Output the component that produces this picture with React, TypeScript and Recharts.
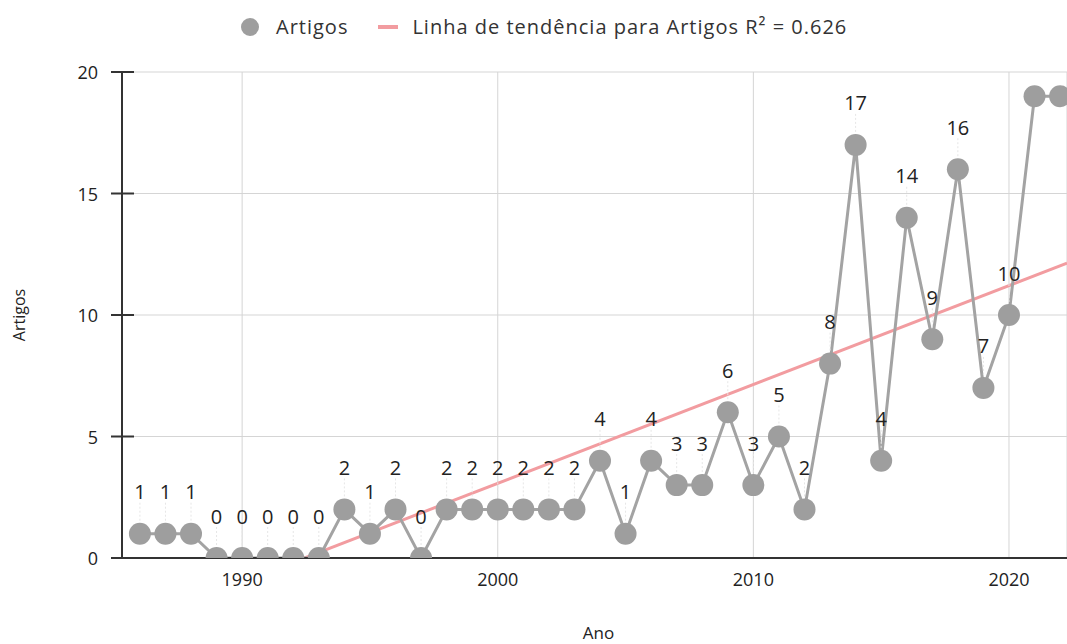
import React from "react";
import {
    LineChart,
    Line,
    XAxis,
    YAxis,
    CartesianGrid,
    ReferenceLine,
    LabelList,
    Label,
} from "recharts";

// --- Data ---

const YEARS = [
    1986, 1987, 1988, 1989, 1990, 1991, 1992, 1993, 1994, 1995,
    1996, 1997, 1998, 1999, 2000, 2001, 2002, 2003, 2004, 2005,
    2006, 2007, 2008, 2009, 2010, 2011, 2012, 2013, 2014, 2015,
    2016, 2017, 2018, 2019, 2020, 2021, 2022,
];
const ARTIGOS = [
    1, 1, 1, 0, 0, 0, 0, 0, 2, 1,
    2, 0, 2, 2, 2, 2, 2, 2, 4, 1,
    4, 3, 3, 6, 3, 5, 2, 8, 17, 4,
    14, 9, 16, 7, 10, 19, 19,
];
const X_TICKS = [1990, 2000, 2010, 2020];
const Y_TICKS = [0, 5, 10, 15, 20];

const SERIES_NAME = "Artigos";
const TREND_NAME = "Linha de tendência para Artigos R² = 0.626";

// --- Constants ---

const WIDTH = 1067;
const HEIGHT = 644;
const PLOT_LEFT = 122;
const PLOT_TOP = 72;
const X_AXIS_HEIGHT = 86;
const X_DOMAIN: [number, number] = [1985.3, 2022.27];

const POINT_COLOR = "#9e9e9e";
const LINE_COLOR = "#a3a3a3";
const TREND_COLOR = "#f29ca0";
const AXIS_COLOR = "#333333";
const GRID_COLOR = "#d5d5d5";
const TEXT_COLOR = "#222222";
const FONT = "'Open Sans', sans-serif";

const DOT_RADIUS = 11;
const LABEL_GAP = 42;

const chartData = YEARS.map((year, i) => ({ year, artigos: ARTIGOS[i] }));

// least squares trend over the series
function linearFit(xs: number[], ys: number[])
{
    const n = xs.length;
    const mx = xs.reduce((a, b) => a + b, 0) / n;
    const my = ys.reduce((a, b) => a + b, 0) / n;
    let sxy = 0;
    let sxx = 0;
    for (let i = 0; i < n; i++)
    {
        sxy += (xs[i] - mx) * (ys[i] - my);
        sxx += (xs[i] - mx) * (xs[i] - mx);
    }
    const slope = sxy / sxx;
    return (x: number) => my + slope * (x - mx);
}

const trend = linearFit(YEARS, ARTIGOS);

// --- Custom parts ---

function PointLabel(props: any)
{
    const x = props.x ?? props.viewBox?.x;
    const y = props.y ?? props.viewBox?.y;
    const ly = y - LABEL_GAP;
    if (ly < PLOT_TOP)
    {
        return null;
    }
    return (
        <g>
            <line
                x1={x}
                x2={x}
                y1={ly + 11}
                y2={y - DOT_RADIUS}
                stroke="#e6e6e6"
                strokeDasharray="2 2"
            />
            <text
                x={x}
                y={ly}
                textAnchor="middle"
                dominantBaseline="central"
                fontSize={20}
                fontFamily={FONT}
                fill={TEXT_COLOR}
            >
                {props.value}
            </text>
        </g>
    );
}

function YTick({ y, payload }: any)
{
    return (
        <g>
            <line
                x1={PLOT_LEFT - 11}
                x2={PLOT_LEFT + 12}
                y1={y}
                y2={y}
                stroke={AXIS_COLOR}
                strokeWidth={2}
            />
            <text
                x={PLOT_LEFT - 24}
                y={y}
                textAnchor="end"
                dominantBaseline="central"
                fontSize={18}
                fontFamily={FONT}
                fill={TEXT_COLOR}
            >
                {payload.value}
            </text>
        </g>
    );
}

function ChartLegend()
{
    return (
        <div
            style={{
                position: "absolute",
                top: 13,
                left: 241,
                display: "flex",
                alignItems: "center",
                fontFamily: FONT,
                fontSize: 20,
                letterSpacing: 1,
                color: "#333",
                whiteSpace: "nowrap",
            }}
        >
            <span
                style={{
                    display: "inline-block",
                    width: 18,
                    height: 18,
                    borderRadius: 9,
                    background: POINT_COLOR,
                    marginRight: 17,
                }}
            />
            <span>{SERIES_NAME}</span>
            <span
                style={{
                    display: "inline-block",
                    width: 20,
                    height: 4,
                    background: TREND_COLOR,
                    marginLeft: 30,
                    marginRight: 14,
                }}
            />
            <span>{TREND_NAME}</span>
        </div>
    );
}

// --- Component ---

export default function App()
{
    return (
        <div
            style={{
                position: "absolute",
                left: 0,
                top: 0,
                width: WIDTH,
                height: HEIGHT,
                background: "#fff",
                overflow: "hidden",
            }}
        >
            <LineChart
                width={WIDTH}
                height={HEIGHT}
                data={chartData}
                margin={{ top: PLOT_TOP, right: 0, bottom: 0, left: 0 }}
            >
                <CartesianGrid stroke={GRID_COLOR} />
                <XAxis
                    dataKey="year"
                    type="number"
                    domain={X_DOMAIN}
                    ticks={X_TICKS}
                    allowDataOverflow
                    height={X_AXIS_HEIGHT}
                    axisLine={{ stroke: AXIS_COLOR, strokeWidth: 2 }}
                    tickLine={false}
                    tickSize={0}
                    tickMargin={15}
                    tick={{ fontSize: 18, fill: TEXT_COLOR, fontFamily: FONT }}
                >
                    <Label
                        value="Ano"
                        position="insideBottom"
                        offset={5}
                        dx={4}
                        style={{ fontSize: 17, fill: TEXT_COLOR, fontFamily: FONT }}
                    />
                </XAxis>
                <YAxis
                    domain={[0, 20]}
                    ticks={Y_TICKS}
                    allowDataOverflow
                    width={PLOT_LEFT}
                    axisLine={{ stroke: AXIS_COLOR, strokeWidth: 2 }}
                    tickLine={false}
                    tick={<YTick />}
                >
                    <Label
                        value="Artigos"
                        angle={-90}
                        position="insideLeft"
                        offset={19}
                        style={{
                            fontSize: 16,
                            fill: TEXT_COLOR,
                            fontFamily: FONT,
                            textAnchor: "middle",
                        }}
                    />
                </YAxis>
                <ReferenceLine
                    segment={[
                        { x: X_DOMAIN[0], y: trend(X_DOMAIN[0]) },
                        { x: X_DOMAIN[1], y: trend(X_DOMAIN[1]) },
                    ]}
                    stroke={TREND_COLOR}
                    strokeWidth={3}
                    ifOverflow="hidden"
                />
                <Line
                    dataKey="artigos"
                    name={SERIES_NAME}
                    stroke={LINE_COLOR}
                    strokeWidth={3}
                    dot={{ r: DOT_RADIUS, fill: POINT_COLOR, stroke: "none", strokeWidth: 0 }}
                    activeDot={false}
                    isAnimationActive={false}
                >
                    <LabelList dataKey="artigos" content={<PointLabel />} />
                </Line>
            </LineChart>
            <ChartLegend />
        </div>
    );
}
